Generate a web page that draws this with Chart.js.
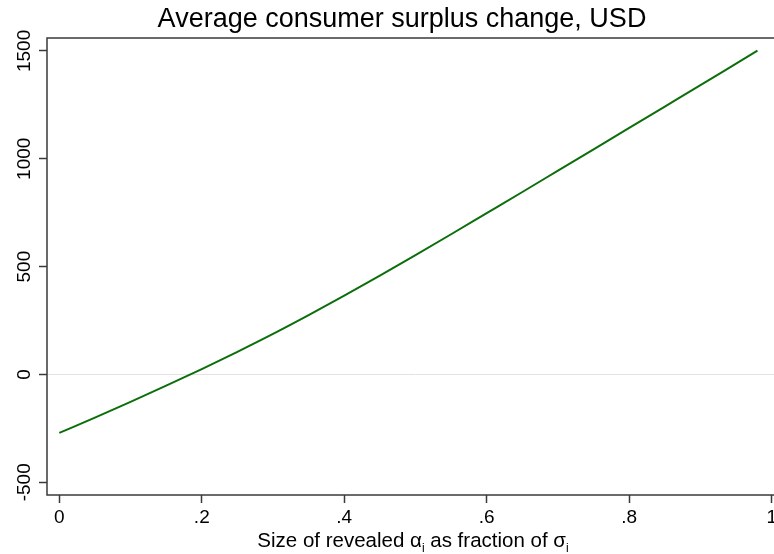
<!DOCTYPE html>
<html>
<head>
<meta charset="utf-8">
<script src="https://cdn.jsdelivr.net/npm/chart.js@4.4.1/dist/chart.umd.min.js"></script>
<style>
  html, body { margin: 0; padding: 0; background: #fff; overflow: hidden; width: 774px; height: 554px; }
  #wrap { position: relative; width: 800px; height: 554px; }
</style>
</head>
<body>
<div id="wrap"><canvas id="c" width="800" height="554"></canvas></div>
<script>
// Share of sigma_i that is revealed, and the resulting average surplus change (USD)
const revealShare = [0, 0.05, 0.10, 0.15, 0.20, 0.25, 0.30, 0.35, 0.40, 0.45, 0.50,
                     0.55, 0.60, 0.65, 0.70, 0.75, 0.80, 0.85, 0.90, 0.95, 0.98];
const surplusChange = [-271, -200, -127, -52, 25, 105, 188, 275, 365, 458, 553,
                       650, 748, 846, 945, 1044, 1143, 1242, 1341, 1441, 1501];

const xTickValues = [0, 0.2, 0.4, 0.6, 0.8, 1];
const xTickLabels = ['0', '.2', '.4', '.6', '.8', '1'];
const yTickValues = [-500, 0, 500, 1000, 1500];
const yTickLabels = ['-500', '0', '500', '1000', '1500'];

const titleText = 'Average consumer surplus change, USD';
const FONT = '"Liberation Sans", Arial, Helvetica, sans-serif';
const AXIS_COLOR = '#3a3a3a';
const LINE_COLOR = '#0b6e0b';

// Title, y tick labels, x axis title (with subscripts) and the plot frame
const decorations = {
  id: 'decorations',
  afterDraw(chart) {
    const ctx = chart.ctx;
    const area = chart.chartArea;
    const ys = chart.scales.y;

    ctx.save();
    // frame around the plot region
    ctx.strokeStyle = AXIS_COLOR;
    ctx.lineWidth = 1.5;
    ctx.strokeRect(area.left, area.top, area.right - area.left, area.bottom - area.top);

    // title
    ctx.fillStyle = '#000';
    ctx.font = '27px ' + FONT;
    ctx.textAlign = 'center';
    ctx.textBaseline = 'alphabetic';
    ctx.fillText(titleText, 402, 27);

    // rotated y tick labels
    ctx.font = '19px ' + FONT;
    ys.ticks.forEach((t, i) => {
      const py = ys.getPixelForValue(t.value);
      ctx.save();
      ctx.translate(29.5, py);
      ctx.rotate(-Math.PI / 2);
      ctx.textAlign = 'center';
      ctx.textBaseline = 'alphabetic';
      ctx.fillText(yTickLabels[i], 0, 0);
      ctx.restore();
    });

    // x axis title with subscripts
    const big = '20.5px ' + FONT, small = '12px ' + FONT;
    const parts = [
      { t: 'Size of revealed ', f: big, dy: 0 },
      { t: '\u03b1', f: big, dy: 0 },
      { t: 'i', f: small, dy: 5 },
      { t: ' as fraction of ', f: big, dy: 0 },
      { t: '\u03c3', f: big, dy: 0 },
      { t: 'i', f: small, dy: 5 }
    ];
    let total = 0;
    parts.forEach(p => { ctx.font = p.f; p.w = ctx.measureText(p.t).width; total += p.w; });
    let x = 413 - total / 2;
    ctx.textAlign = 'left';
    parts.forEach(p => {
      ctx.font = p.f;
      ctx.fillText(p.t, x, 546.5 + p.dy);
      x += p.w;
    });
    ctx.restore();
  }
};

new Chart(document.getElementById('c'), {
  type: 'line',
  data: {
    datasets: [{
      data: revealShare.map((v, i) => ({ x: v, y: surplusChange[i] })),
      borderColor: LINE_COLOR,
      borderWidth: 2,
      pointRadius: 0,
      cubicInterpolationMode: 'monotone',
      fill: false
    }]
  },
  options: {
    responsive: false,
    animation: false,
    devicePixelRatio: 1,
    layout: { padding: { left: 0, top: 38, right: 16, bottom: 0 } },
    plugins: { legend: { display: false }, tooltip: { enabled: false }, title: { display: false } },
    scales: {
      x: {
        type: 'linear',
        min: -0.01727,
        max: 1.01727,
        afterBuildTicks(s) { s.ticks = xTickValues.map(v => ({ value: v })); },
        afterFit(s) { s.height = 59; },
        border: { display: false },
        grid: { drawOnChartArea: false, drawTicks: true, tickLength: 8, tickColor: AXIS_COLOR, tickWidth: 1.5 },
        ticks: {
          autoSkip: false, maxRotation: 0, minRotation: 0, padding: 3,
          color: '#000', font: { family: FONT, size: 19 },
          callback: (v, i) => xTickLabels[i]
        }
      },
      y: {
        type: 'linear',
        min: -559,
        max: 1560,
        afterBuildTicks(s) { s.ticks = yTickValues.map(v => ({ value: v })); },
        afterFit(s) { s.width = 47; },
        border: { display: false },
        grid: {
          drawOnChartArea: true, drawTicks: true, tickLength: 8,
          tickColor: AXIS_COLOR, tickWidth: 1.5,
          color: c => (c.tick && c.tick.value === 0) ? '#e2e2e2' : 'rgba(0,0,0,0)',
          lineWidth: 1
        },
        ticks: { display: false }
      }
    }
  },
  plugins: [decorations]
});
</script>
</body>
</html>
